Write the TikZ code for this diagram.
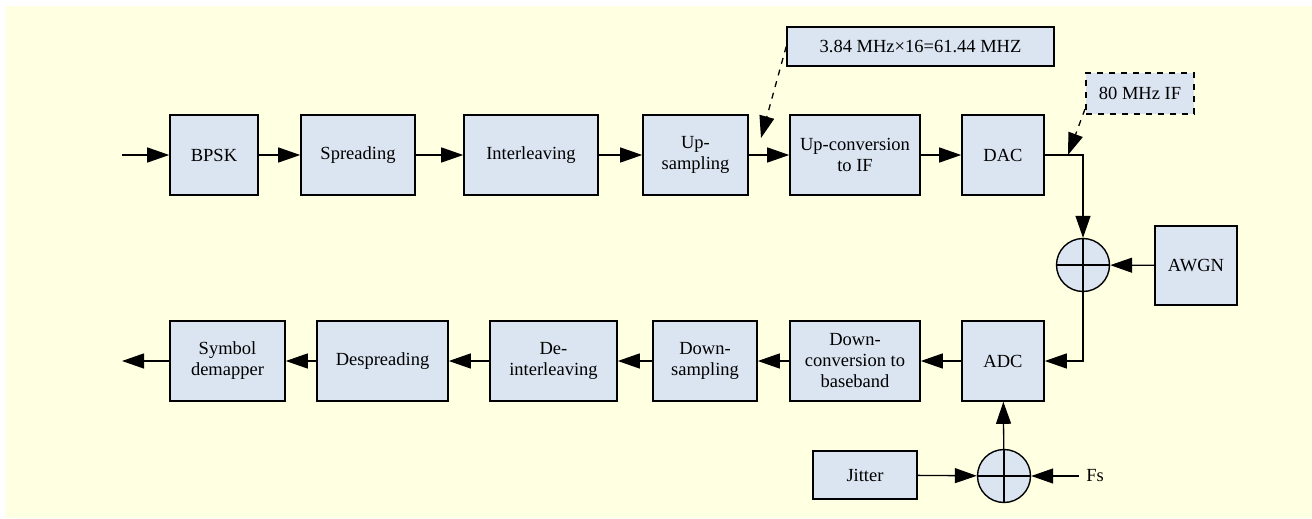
\documentclass[tikz,border=0pt]{standalone}
\usepackage{fontspec}
\setmainfont{Liberation Serif}
\usepackage{tikz}
\usetikzlibrary{arrows.meta, positioning, calc}
\definecolor{bgyellow}{RGB}{255,255,225}
\definecolor{boxblue}{RGB}{219,228,241}

\begin{document}
\begin{tikzpicture}[x=0.5pt, y=-0.5pt,
  font=\fontsize{9.25}{10.5}\selectfont,
  blk/.style={draw, line width=0.8pt, fill=boxblue, minimum height=40pt, align=center, inner sep=1pt},
  sumnode/.style={draw, circle, line width=0.7pt, fill=boxblue, minimum size=26.5pt, inner sep=0pt},
  arr/.style={line width=0.65pt, -{Triangle[length=11pt,width=7.5pt]}},
  darr/.style={arr, dashed}]
\useasboundingbox (0,0) rectangle (1312,519);
\fill[bgyellow] (6,6) rectangle (1312,518);

% transmitter chain
\node[blk, minimum width=44pt] (bpsk) at (214,155) {BPSK};
\node[blk, minimum width=57pt] (spread) at (358,155) {Spreading};
\node[blk, minimum width=67pt] (inter) at (531,155) {Interleaving};
\node[blk, minimum width=52.5pt] (upsamp) at (695.5,155) {Up-\\sampling};
\node[blk, minimum width=65pt] (upconv) at (855,155) {Up-conversion\\to IF};
\node[blk, minimum width=41pt] (dac) at (1003,155) {DAC};

% notes
\node[blk, minimum width=133.5pt, minimum height=19.5pt] (note1) at (920.5,46.5) {3.84 MHz×16=61.44 MHZ};
\node[blk, dashed, line width=1pt, minimum width=54pt, minimum height=20.5pt] (note2) at (1140,93.5) {80 MHz IF};

% channel
\node[sumnode] (sum1) at (1083,265) {};
\node[blk, minimum width=41pt, minimum height=39.5pt] (awgn) at (1196,265.5) {AWGN};

% receiver chain
\node[blk, minimum width=41pt] (adc) at (1003,361) {ADC};
\node[blk, minimum width=65pt] (downconv) at (855,361) {Down-\\conversion to\\baseband};
\node[blk, minimum width=52pt] (downsamp) at (705,361) {Down-\\sampling};
\node[blk, minimum width=63.5pt] (deint) at (553.5,361) {De-\\interleaving};
\node[blk, minimum width=65.5pt] (despread) at (382.5,361) {Despreading};
\node[blk, minimum width=57.5pt] (demap) at (227.5,361) {Symbol\\demapper};

% clock
\node[sumnode] (sum2) at (1004,476) {};
\node[blk, minimum width=52pt, minimum height=24pt] (jitter) at (865,475) {Jitter};
\node (fs) at (1095,476) {Fs};

\coordinate (in) at (122,155);
\coordinate (out) at (122,361);
\coordinate (tip1) at (761,138);
\coordinate (tip2) at (1068,155);

% crosses in the adders
\foreach \s in {sum1,sum2} {
  \draw[line width=0.65pt] (\s.north) -- (\s.south) (\s.west) -- (\s.east);
}

\foreach \a/\b in {in/bpsk, bpsk/spread, spread/inter, inter/upsamp, upsamp/upconv, upconv/dac,
                   adc/downconv, downconv/downsamp, downsamp/deint, deint/despread, despread/demap, demap/out,
                   awgn/sum1, jitter/sum2, sum2/adc} {
  \draw[arr] (\a) -- (\b);
}
\draw[arr] (dac.east) -| (sum1.north);
\draw[arr] (sum1.south) |- (adc.east);
\draw[arr] (fs.west) -- (sum2.east);

% dashed notes
\draw[darr] (note1.west) -- (tip1);
\draw[darr] ($(note2.south west)+(0,-6)$) -- (tip2);
\end{tikzpicture}
\end{document}
